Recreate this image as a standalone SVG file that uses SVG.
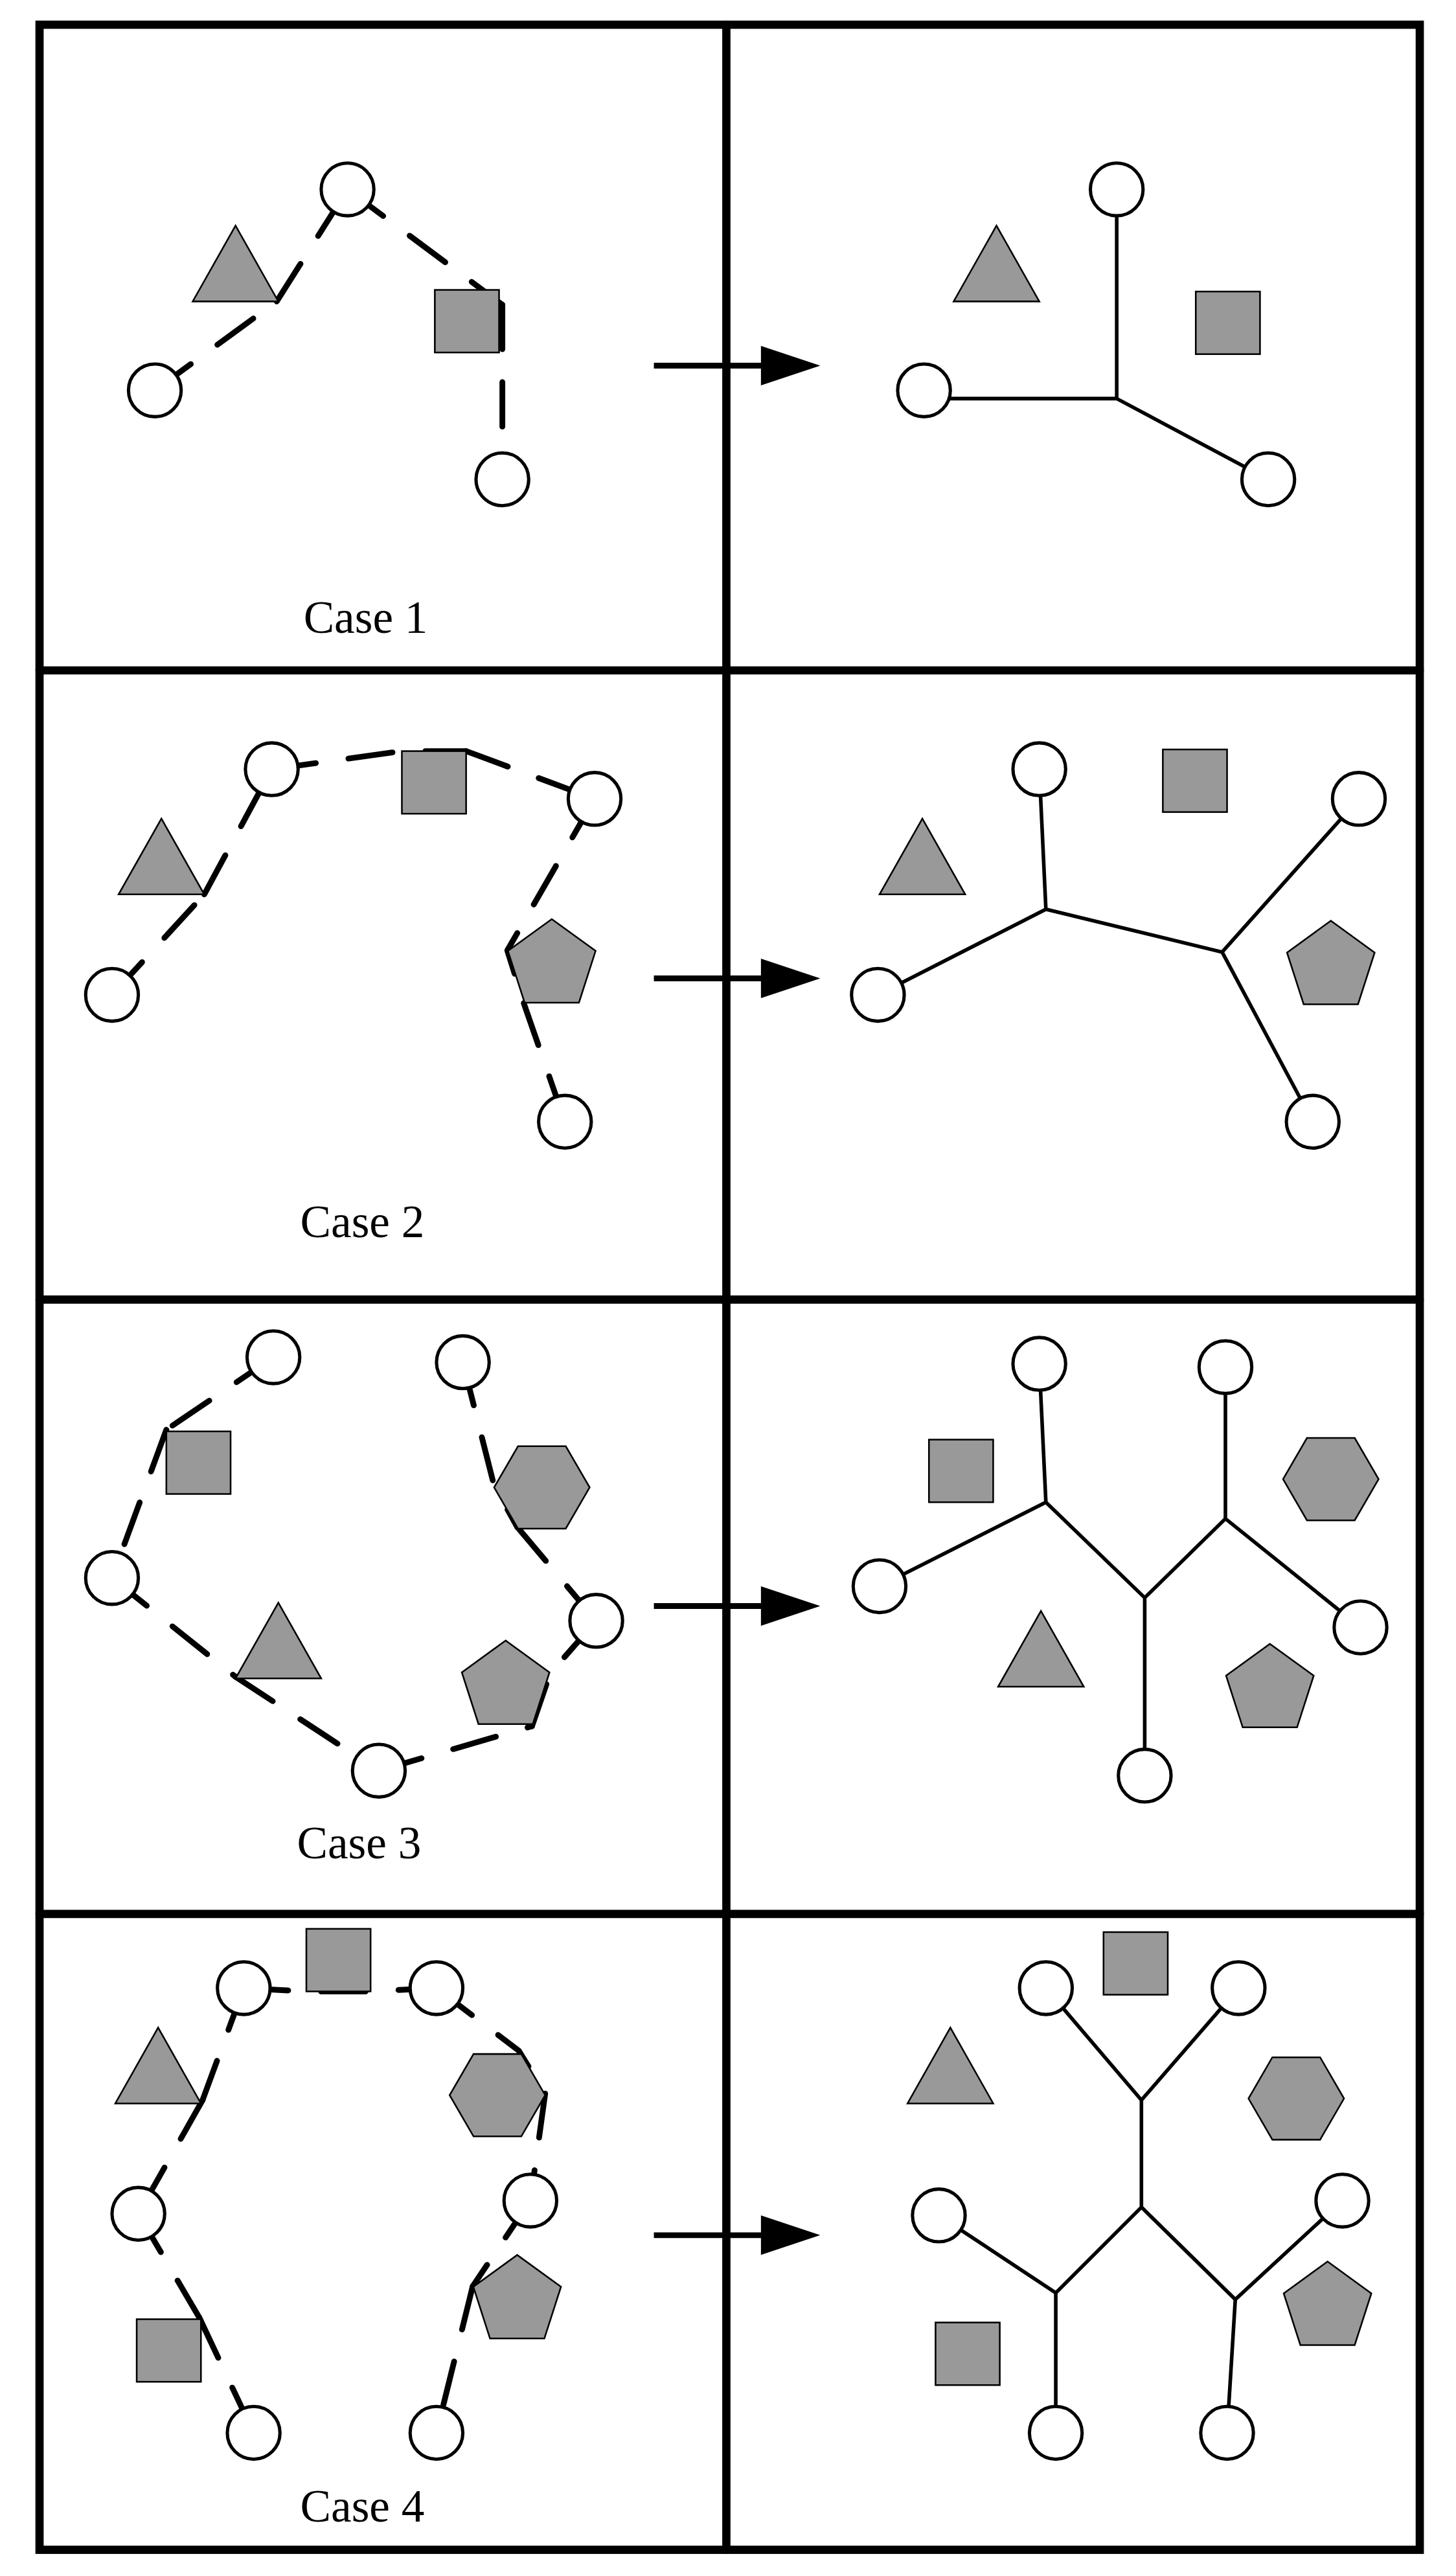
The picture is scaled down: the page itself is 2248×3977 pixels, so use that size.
<svg xmlns="http://www.w3.org/2000/svg" width="2248" height="3977" viewBox="0 0 2248 3977">
<style>
.fr{fill:none;stroke:#000;stroke-width:5;stroke-linecap:round}
.d{fill:none;stroke:#000;stroke-width:3.5;stroke-dasharray:27 20;stroke-linecap:round;stroke-linejoin:round}
.s{fill:none;stroke:#000;stroke-width:2.2}
.c{fill:#fff;stroke:#000;stroke-width:2}
.g{fill:#999;stroke:#000;stroke-width:1}
.a{stroke:#000;stroke-width:3.5}
.t{font-family:"Liberation Serif",serif;font-size:28px;text-anchor:middle;fill:#000}
</style>
<defs>
<polygon id="pen" class="g" points="0,-28 26.6,-8.7 16.5,22.7 -16.5,22.7 -26.6,-8.7"/>
<polygon id="hex" class="g" points="-29,0 -14.5,-25 14.5,-25 29,0 14.5,25 -14.5,25"/>
<polygon id="tri" class="g" points="0,0 26,46 -26,46"/>
<rect id="sq" class="g" x="0" y="0" width="39" height="38"/>
<g id="arr"><line class="a" x1="397" y1="0" x2="470" y2="0"/><polygon points="462,-12 498,0 462,12"/></g>
</defs>
<rect width="2248" height="3977" fill="#fff"/>
<g transform="scale(2.543)">
<g id="frame">
<rect class="fr" x="24" y="15" width="838" height="1533"/>
<line class="fr" x1="441" y1="15" x2="441" y2="1548"/>
<line class="fr" x1="24" y1="407" x2="862" y2="407"/>
<line class="fr" x1="24" y1="789" x2="862" y2="789"/>
<line class="fr" x1="24" y1="1162" x2="862" y2="1162"/>
</g>
<g id="connectors">
<use href="#arr" y="222"/><use href="#arr" y="594"/><use href="#arr" y="975"/><use href="#arr" y="1357"/>
<!-- case1 -->
<polyline class="d" points="94,237 168,183"/><polyline class="d" points="168,183 211,115"/>
<polyline class="d" points="211,115 305,185"/><polyline class="d" points="305,185 305,291"/>
<path class="s" d="M561,242H678V115M678,242L770,291"/>
<!-- case2 -->
<polyline class="d" points="68,604 124,543"/><polyline class="d" points="124,543 165,467"/>
<polyline class="d" points="165,467 244,456 283,456"/><polyline class="d" points="283,456 361,485"/>
<polyline class="d" points="361,485 308,577 318,609"/><polyline class="d" points="318,609 343,681"/>
<path class="s" d="M533,604L635,552L631,467M635,552L742,578L825,485M742,578L797,681"/>
<!-- case3 -->
<polyline class="d" points="166,824 101,868"/><polyline class="d" points="101,868 68,958"/>
<polyline class="d" points="68,958 143,1018"/><polyline class="d" points="143,1018 230,1075"/>
<polyline class="d" points="230,1075 323,1048"/><polyline class="d" points="323,1048 334,1016 362,984"/>
<polyline class="d" points="281,827 300,902 314,927"/><polyline class="d" points="314,927 362,984"/>
<path class="s" d="M534,963L635,912L631,828M635,912L695,970L744,922L744,830M744,922L826,988M695,970V1078"/>
<!-- case4 -->
<polyline class="d" points="148,1207 186,1209 224,1209 265,1207"/>
<polyline class="d" points="148,1207 123,1275"/><polyline class="d" points="123,1275 84,1344"/>
<polyline class="d" points="84,1344 121,1407"/><polyline class="d" points="121,1407 154,1477"/>
<polyline class="d" points="265,1207 315,1245 331,1271"/><polyline class="d" points="331,1271 322,1336"/>
<polyline class="d" points="322,1336 287,1388"/><polyline class="d" points="287,1388 265,1477"/>
<path class="s" d="M635,1207L693,1275L752,1207M693,1275V1340L641,1392L570,1345M641,1392V1477M693,1340L750,1396L815,1336M750,1396L745,1477"/>
</g>
<g id="case1-left">
<use href="#tri" x="143" y="137"/><use href="#sq" x="264" y="176"/>
<circle class="c" cx="211" cy="115" r="16"/><circle class="c" cx="94" cy="237" r="16"/><circle class="c" cx="305" cy="291" r="16"/>
<text class="t" x="222" y="384">Case 1</text>
</g>
<g id="case1-right">
<use href="#tri" x="605" y="137"/><use href="#sq" x="726" y="177"/>
<circle class="c" cx="678" cy="115" r="16"/><circle class="c" cx="561" cy="237" r="16"/><circle class="c" cx="770" cy="291" r="16"/>
</g>
<g id="case2-left">
<use href="#tri" x="98" y="497"/><use href="#sq" x="244" y="456"/><use href="#pen" x="335" y="586"/>
<circle class="c" cx="165" cy="467" r="16"/><circle class="c" cx="361" cy="485" r="16"/><circle class="c" cx="68" cy="604" r="16"/><circle class="c" cx="343" cy="681" r="16"/>
<text class="t" x="220" y="751">Case 2</text>
</g>
<g id="case2-right">
<use href="#tri" x="560" y="497"/><use href="#sq" x="706" y="455"/><use href="#pen" x="808" y="587"/>
<circle class="c" cx="631" cy="467" r="16"/><circle class="c" cx="825" cy="485" r="16"/><circle class="c" cx="533" cy="604" r="16"/><circle class="c" cx="797" cy="681" r="16"/>
</g>
<g id="case3-left">
<use href="#sq" x="101" y="869"/><use href="#tri" x="169" y="973"/><use href="#hex" x="329" y="903"/><use href="#pen" x="307" y="1024"/>
<circle class="c" cx="166" cy="824" r="16"/><circle class="c" cx="281" cy="827" r="16"/><circle class="c" cx="68" cy="958" r="16"/><circle class="c" cx="362" cy="984" r="16"/><circle class="c" cx="230" cy="1075" r="16"/>
<text class="t" x="218" y="1128">Case 3</text>
</g>
<g id="case3-right">
<use href="#sq" x="564" y="874"/><use href="#tri" x="632" y="978"/><use href="#hex" x="808" y="898"/><use href="#pen" x="771" y="1026"/>
<circle class="c" cx="631" cy="828" r="16"/><circle class="c" cx="744" cy="830" r="16"/><circle class="c" cx="534" cy="963" r="16"/><circle class="c" cx="826" cy="988" r="16"/><circle class="c" cx="695" cy="1078" r="16"/>
</g>
<g id="case4-left">
<use href="#sq" x="186" y="1171"/><use href="#tri" x="96" y="1231"/><use href="#hex" x="302" y="1272"/><use href="#pen" x="314" y="1397"/><use href="#sq" x="83" y="1408"/>
<circle class="c" cx="148" cy="1207" r="16"/><circle class="c" cx="265" cy="1207" r="16"/><circle class="c" cx="84" cy="1344" r="16"/><circle class="c" cx="322" cy="1336" r="16"/><circle class="c" cx="154" cy="1477" r="16"/><circle class="c" cx="265" cy="1477" r="16"/>
<text class="t" x="220" y="1531">Case 4</text>
</g>
<g id="case4-right">
<use href="#sq" x="670" y="1173"/><use href="#tri" x="577" y="1231"/><use href="#hex" x="787" y="1274"/><use href="#pen" x="806" y="1401"/><use href="#sq" x="568" y="1410"/>
<circle class="c" cx="635" cy="1207" r="16"/><circle class="c" cx="752" cy="1207" r="16"/><circle class="c" cx="570" cy="1345" r="16"/><circle class="c" cx="815" cy="1336" r="16"/><circle class="c" cx="641" cy="1477" r="16"/><circle class="c" cx="745" cy="1477" r="16"/>
</g>
</g>
</svg>
